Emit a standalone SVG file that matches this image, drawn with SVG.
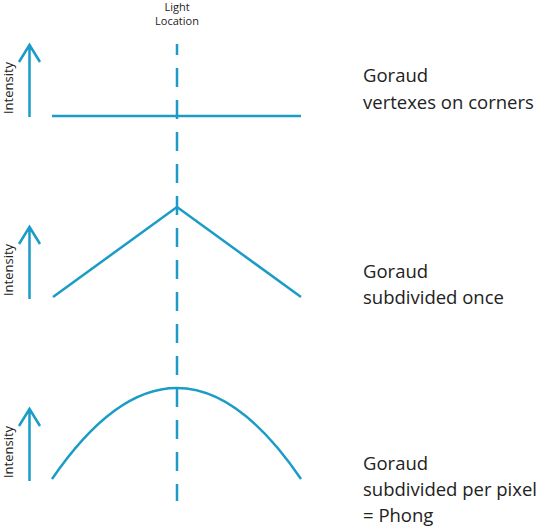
<svg xmlns="http://www.w3.org/2000/svg" width="540" height="531" viewBox="0 0 540 531">
<style>
.ln{fill:none;stroke:#1a9cc7;stroke-width:2.5;stroke-linecap:butt;stroke-linejoin:miter}
.ax{fill:none;stroke:#1a9cc7;stroke-width:2.5}
.lbl{font-family:"Open Sans","Liberation Sans",sans-serif;font-size:18.5px;fill:#222}
.int{font-family:"Open Sans","Liberation Sans",sans-serif;font-size:13px;fill:#222;text-anchor:middle}
.top{font-family:"Open Sans","Liberation Sans",sans-serif;font-size:11px;fill:#222;text-anchor:middle}
</style>
<rect width="540" height="531" fill="#fff"/>
<g id="light-location">
<text class="top" x="177" y="11">Light</text>
<text class="top" x="177" y="25">Location</text>
</g>
<g id="connectors">
<line class="ln" x1="177" y1="44" x2="177" y2="501" stroke-dasharray="19 13" stroke-dashoffset="8"/>
</g>
<g id="row1">
<path class="ax" d="M29.5 117 V46 M19 62 L29.5 45 L40 62"/>
<text class="int" transform="translate(13,88) rotate(-90)">Intensity</text>
<line class="ln" x1="52" y1="116" x2="301" y2="116"/>
<text class="lbl" x="363" y="82">Goraud</text>
<text class="lbl" x="363" y="109">vertexes on corners</text>
</g>
<g id="row2">
<path class="ax" d="M29.5 299 V228 M19 244 L29.5 227 L40 244"/>
<text class="int" transform="translate(13,270) rotate(-90)">Intensity</text>
<path class="ln" d="M53 297 L177 207 L301 297"/>
<text class="lbl" x="363" y="278">Goraud</text>
<text class="lbl" x="363" y="304">subdivided once</text>
</g>
<g id="row3">
<path class="ax" d="M29.5 481 V410 M19 426 L29.5 409 L40 426"/>
<text class="int" transform="translate(13,452) rotate(-90)">Intensity</text>
<path class="ln" d="M52 479 Q177 297 301 479"/>
<text class="lbl" x="363" y="470">Goraud</text>
<text class="lbl" x="363" y="496">subdivided per pixel</text>
<text class="lbl" x="363" y="522">= Phong</text>
</g>
</svg>
